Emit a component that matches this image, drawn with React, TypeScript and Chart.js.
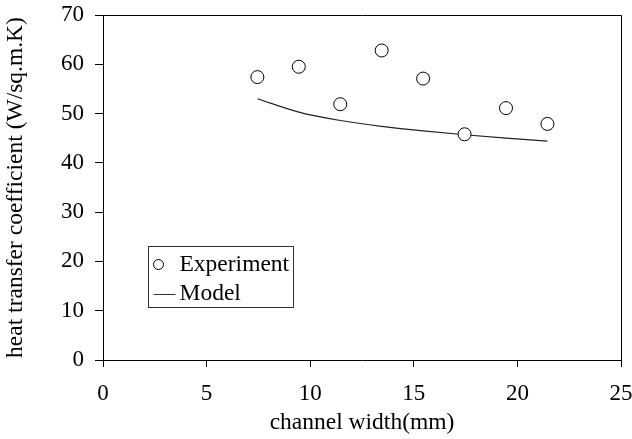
import React, { useEffect, useRef } from "react";
import { Chart, registerables } from "chart.js";

Chart.register(...registerables);

const experimentX = [7.45, 9.45, 11.45, 13.45, 15.45, 17.45, 19.45, 21.45];
const experimentY = [57.4, 59.5, 51.9, 62.8, 57.1, 45.8, 51.1, 47.9];
const modelX = [7.45, 9.45, 11.45, 13.45, 15.45, 17.45, 19.45, 21.45];
const modelY = [53.0, 50.3, 48.6, 47.4, 46.5, 45.7, 45.0, 44.4];
const seriesLabels = ["Experiment", "Model"];
const xTitle = "channel width(mm)";
const yTitle = "heat transfer coefficient (W/sq.m.K)";

const FONT = "'Liberation Serif', 'Times New Roman', serif";
const TICK_SIZE = 23;
const TEXT_SIZE = 23.5;

const framePlugin = {
  id: "frame",
  afterDraw(chart: any) {
    const { ctx, chartArea } = chart;
    const { left, right, top, bottom } = chartArea;
    ctx.save();
    ctx.strokeStyle = "#000";
    ctx.lineWidth = 1;
    ctx.beginPath();
    ctx.moveTo(Math.round(left) + 0.5, Math.round(top) + 0.5);
    ctx.lineTo(Math.round(right) + 0.5, Math.round(top) + 0.5);
    ctx.lineTo(Math.round(right) + 0.5, Math.round(bottom) + 0.5);
    ctx.stroke();
    ctx.restore();
  },
};

const legendPlugin = {
  id: "boxLegend",
  afterDraw(chart: any) {
    const { ctx, chartArea } = chart;
    const bx = Math.round(chartArea.left + 45) + 0.5;
    const by = Math.round(chartArea.top + 231) + 0.5;
    const bw = 145;
    const bh = 61;
    ctx.save();
    ctx.fillStyle = "#fff";
    ctx.fillRect(bx, by, bw, bh);
    ctx.strokeStyle = "#333";
    ctx.lineWidth = 1;
    ctx.strokeRect(bx, by, bw, bh);
    ctx.font = `${TEXT_SIZE}px ${FONT}`;
    ctx.textBaseline = "middle";
    ctx.textAlign = "left";
    const r1 = by + 18;
    ctx.beginPath();
    ctx.arc(bx + 10, r1, 5, 0, Math.PI * 2);
    ctx.fillStyle = "#fff";
    ctx.fill();
    ctx.strokeStyle = "#000";
    ctx.stroke();
    ctx.fillStyle = "#000";
    ctx.fillText(seriesLabels[0], bx + 31, r1);
    const r2 = by + 47;
    ctx.beginPath();
    ctx.moveTo(bx + 5, Math.round(r2) + 0.5);
    ctx.lineTo(bx + 27, Math.round(r2) + 0.5);
    ctx.strokeStyle = "#333";
    ctx.stroke();
    ctx.fillText(seriesLabels[1], bx + 31, r2);
    ctx.restore();
  },
};

export default function App() {
  const canvasRef = useRef<HTMLCanvasElement | null>(null);

  useEffect(() => {
    document.body.style.margin = "0";
    const canvas = canvasRef.current;
    if (!canvas) return;
    const chart = new Chart(canvas, {
      type: "scatter",
      data: {
        datasets: [
          {
            label: seriesLabels[0],
            data: experimentX.map((x, i) => ({ x, y: experimentY[i] })),
            showLine: false,
            pointStyle: "circle",
            pointRadius: 6.5,
            pointBorderWidth: 1,
            pointBackgroundColor: "#fff",
            pointBorderColor: "#000",
            order: 0,
          },
          {
            label: seriesLabels[1],
            data: modelX.map((x, i) => ({ x, y: modelY[i] })),
            showLine: true,
            pointRadius: 0,
            borderColor: "#222",
            borderWidth: 1.2,
            tension: 0.4,
            cubicInterpolationMode: "monotone",
            order: 1,
          } as any,
        ],
      },
      options: {
        animation: false,
        responsive: false,
        maintainAspectRatio: false,
        layout: { padding: { top: 15, left: 0, right: 0, bottom: 0 } },
        plugins: {
          legend: { display: false },
          tooltip: { enabled: false },
        },
        scales: {
          x: {
            type: "linear",
            min: 0,
            max: 25,
            ticks: {
              stepSize: 5,
              color: "#000",
              padding: 13,
              font: { family: FONT, size: TICK_SIZE },
            },
            grid: {
              display: true,
              drawOnChartArea: false,
              drawTicks: true,
              tickLength: 7,
              color: "#000",
            },
            border: { display: true, color: "#000", width: 1 },
            title: {
              display: true,
              text: xTitle,
              color: "#000",
              font: { family: FONT, size: TEXT_SIZE },
              padding: { top: 0, bottom: 2 },
            },
            afterFit: (scale: any) => {
              scale.height = 79;
              scale.paddingLeft = 0;
              scale.paddingRight = 11;
            },
          },
          y: {
            type: "linear",
            min: 0,
            max: 70,
            ticks: {
              stepSize: 10,
              color: "#000",
              padding: 11,
              font: { family: FONT, size: TICK_SIZE },
            },
            grid: {
              display: true,
              drawOnChartArea: false,
              drawTicks: true,
              tickLength: 8,
              color: "#000",
            },
            border: { display: true, color: "#000", width: 1 },
            title: {
              display: true,
              text: yTitle,
              color: "#000",
              font: { family: FONT, size: TEXT_SIZE },
              padding: { top: 2, bottom: 0 },
            },
            afterFit: (scale: any) => {
              scale.width = 103;
              scale.paddingTop = 0;
              scale.paddingBottom = 0;
            },
          },
        },
      },
      plugins: [framePlugin, legendPlugin],
    });
    return () => chart.destroy();
  }, []);

  return (
    <div style={{ width: 632, height: 439 }}>
      <canvas ref={canvasRef} width={632} height={439} style={{ display: "block" }} />
    </div>
  );
}
